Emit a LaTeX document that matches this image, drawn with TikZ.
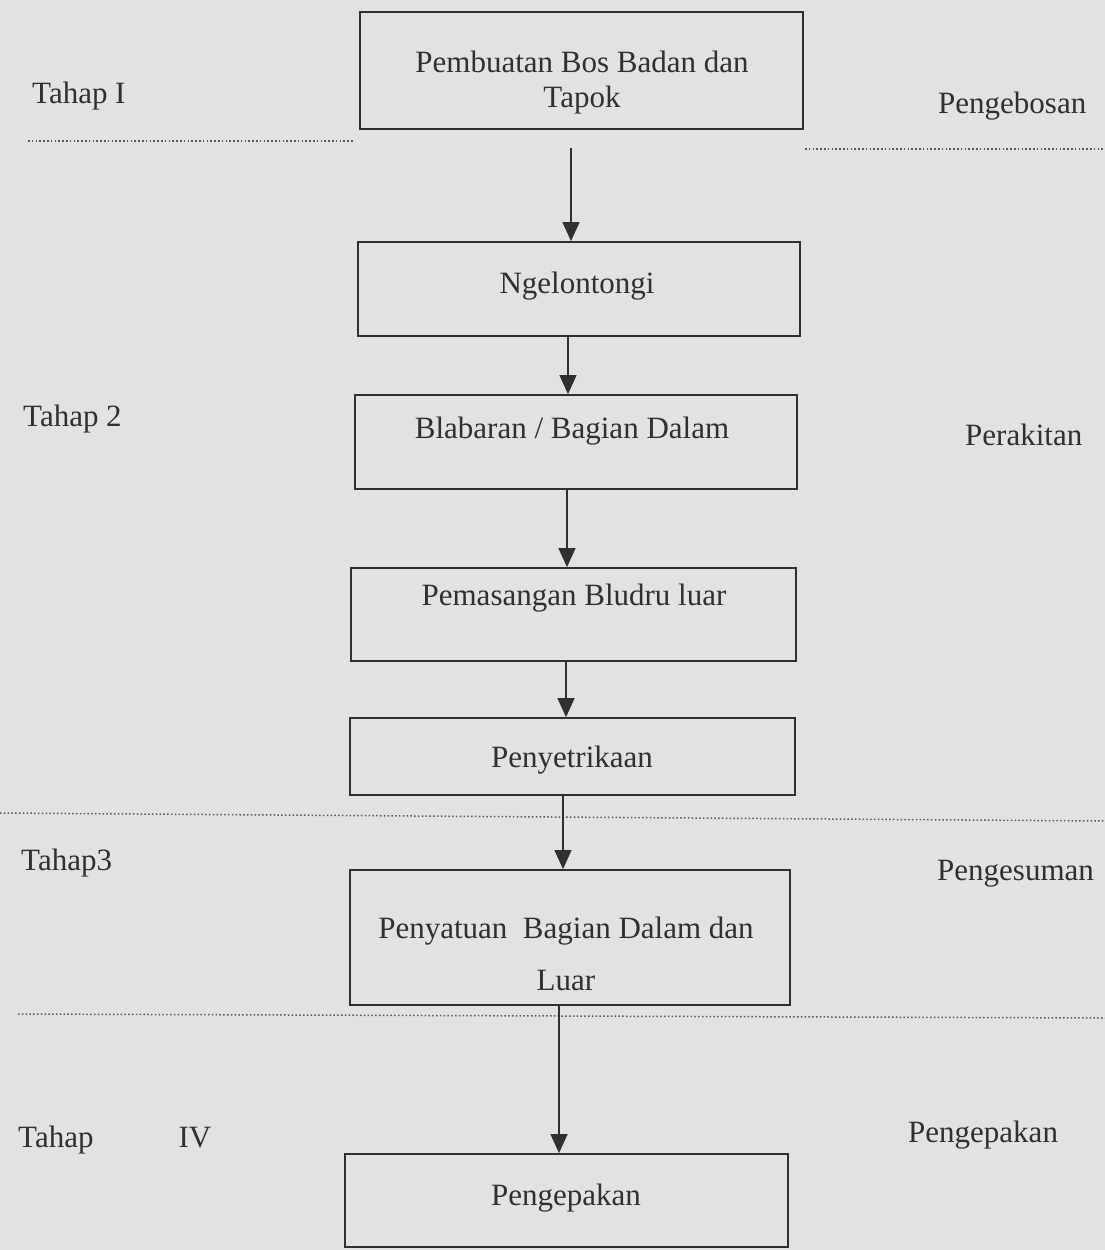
\documentclass[tikz,border=0pt]{standalone}
\usepackage{fontspec}
\setmainfont{Liberation Serif}
\usetikzlibrary{arrows.meta,positioning}
\definecolor{paper}{RGB}{227,225,226}
\definecolor{ink}{RGB}{48,48,48}

\begin{document}
\begin{tikzpicture}[
  x=1pt, y=-1pt,
  box/.style={draw=ink, line width=1.8pt, inner sep=0pt},
  txt/.style={text=ink, inner sep=0pt, font=\fontsize{31}{35}\selectfont},
  side/.style={txt, anchor=base west},
  sep/.style={draw=ink!80, line width=1.5pt, dash pattern=on 1.5pt off 2.3pt},
  arr/.style={draw=ink, line width=1.3pt, -{Triangle[width=17pt,length=19pt]}}
]
\fill[paper] (0,0) rectangle (1105,1250);
\useasboundingbox (0,0) rectangle (1105,1250);

% boxes
\node[box, minimum width=443, minimum height=117] (bos)     at (581.5,70.5)  {};
\node[box, minimum width=442, minimum height=94]  (ngel)    at (579,289)     {};
\node[box, minimum width=442, minimum height=94]  (blab)    at (576,442)     {};
\node[box, minimum width=445, minimum height=93]  (bludru)  at (573.5,614.5) {};
\node[box, minimum width=445, minimum height=77]  (setrika) at (572.5,756.5) {};
\node[box, minimum width=440, minimum height=135] (satu)    at (570,937.5)   {};
\node[box, minimum width=443, minimum height=93]  (pack)    at (566.5,1200.5){};

% box texts
\node[txt, anchor=north, align=center] (bos-t) at (582,51) {Pembuatan Bos Badan dan\\Tapok};
\node[txt, anchor=base] (ngel-t)    at (577,293)  {Ngelontongi};
\node[txt, anchor=base] (blab-t)    at (572,438)  {Blabaran / Bagian Dalam};
\node[txt, anchor=base] (bludru-t)  at (574,605)  {Pemasangan Bludru luar};
\node[txt, anchor=base] (setrika-t) at (572,767)  {Penyetrikaan};
\node[txt, anchor=north, align=center, font=\fontsize{31}{52}\selectfont]
  (satu-t) at (566,917) {Penyatuan~ Bagian Dalam dan\\Luar};
\node[txt, anchor=base] (pack-t)    at (566,1205) {Pengepakan};

% stages
\node[side] (tahap1) at (32,103)  {Tahap I};
\node[side] (tahap2) at (23,426)  {Tahap 2};
\node[side] (tahap3) at (21,870)  {Tahap3};
\node[side] (tahap4) at (18,1147) {Tahap\hspace{85pt}IV};
\node[side] (bosan)  at (938,113) {Pengebosan};
\node[side] (rakit)  at (965,445) {Perakitan};
\node[side] (sesum)  at (937,880) {Pengesuman};
\node[side] (pepak)  at (908,1142){Pengepakan};

\draw[sep] (28,141) -- (353,141);
\draw[sep] (805,149) -- (1105,149);
\draw[sep] (0,813) -- (1105,821);
\draw[sep] (18,1014) -- (1105,1018);

% flow
\draw[arr, shorten <=18pt] ([xshift=-10.5pt]bos.south) -- ([xshift=-10.5pt]bos.south |- ngel.north);
\draw[arr] ([xshift=-11pt]ngel.south)    -- ([xshift=-11pt]ngel.south |- blab.north);
\draw[arr] ([xshift=-9pt]blab.south)     -- ([xshift=-9pt]blab.south |- bludru.north);
\draw[arr] ([xshift=-7.5pt]bludru.south) -- ([xshift=-7.5pt]bludru.south |- setrika.north);
\draw[arr] ([xshift=-9.5pt]setrika.south) -- ([xshift=-9.5pt]setrika.south |- satu.north);
\draw[arr] ([xshift=-11pt]satu.south)    -- ([xshift=-11pt]satu.south |- pack.north);
\end{tikzpicture}
\end{document}
